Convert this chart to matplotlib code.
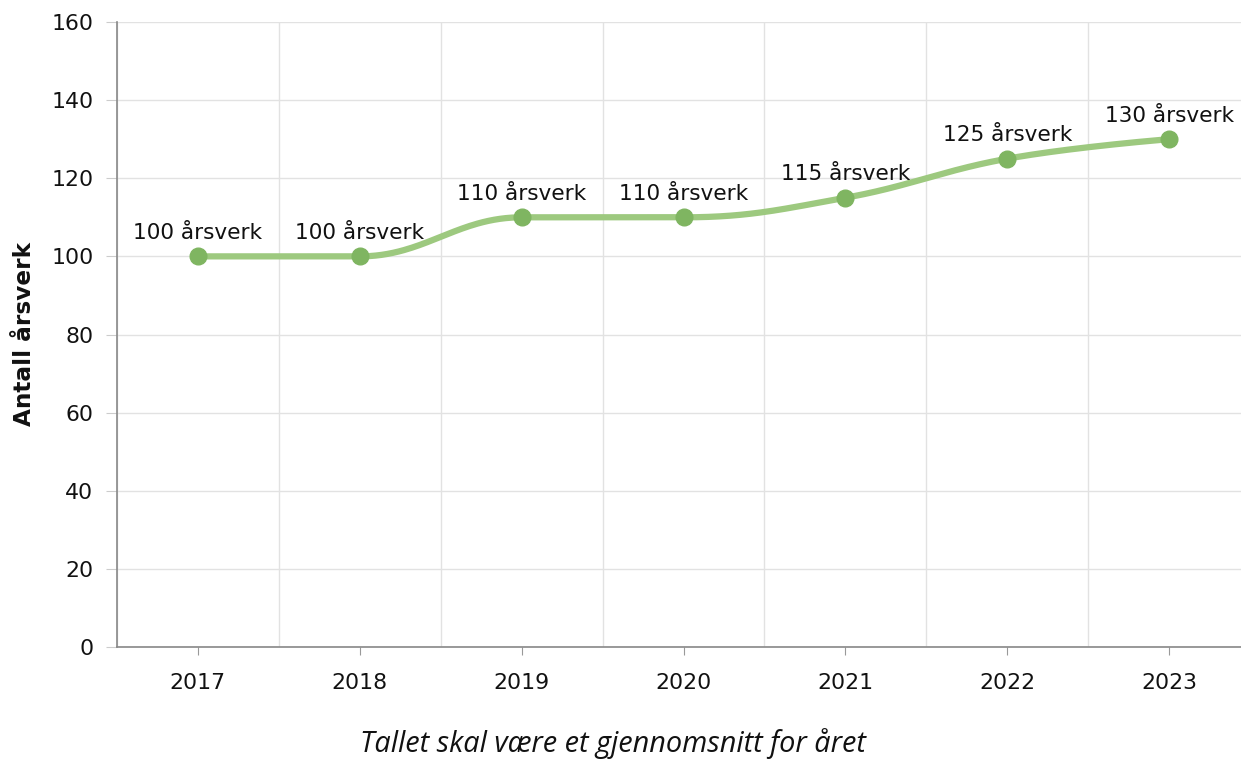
import numpy as np
import matplotlib
matplotlib.use("Agg")
import matplotlib.pyplot as plt

years = ["2017", "2018", "2019", "2020", "2021", "2022", "2023"]
values = [100, 100, 110, 110, 115, 125, 130]
labels = ["100 årsverk", "100 årsverk", "110 årsverk", "110 årsverk",
          "115 årsverk", "125 årsverk", "130 årsverk"]
y_ticks = [0, 20, 40, 60, 80, 100, 120, 140, 160]

W, H = 1241, 760
fig = plt.figure(figsize=(W / 100, H / 100), dpi=100)
ax = fig.add_axes([117 / W, 113 / H, (1250 - 117) / W, (647 - 22) / H])

x = np.arange(len(years)).astype(float)
y = np.array(values, dtype=float)

# Spline with control points (smoothing 1.5, overshoot-corrected)
def spline(xp, yp, n=60, smoothing=1.5):
    k = len(xp)
    lc = [(xp[i], yp[i]) for i in range(k)]
    rc = [(xp[i], yp[i]) for i in range(k)]
    den = smoothing + 1
    for i in range(1, k - 1):
        lx = (smoothing * xp[i] + xp[i - 1]) / den
        ly = (smoothing * yp[i] + yp[i - 1]) / den
        rx = (smoothing * xp[i] + xp[i + 1]) / den
        ry = (smoothing * yp[i] + yp[i + 1]) / den
        corr = (ry - ly) * (rx - xp[i]) / (rx - lx) + yp[i] - ry
        ly += corr
        ry += corr
        if ly > yp[i - 1] and ly > yp[i]:
            ly = max(yp[i - 1], yp[i]); ry = 2 * yp[i] - ly
        elif ly < yp[i - 1] and ly < yp[i]:
            ly = min(yp[i - 1], yp[i]); ry = 2 * yp[i] - ly
        if ry > yp[i + 1] and ry > yp[i]:
            ry = max(yp[i + 1], yp[i]); ly = 2 * yp[i] - ry
        elif ry < yp[i + 1] and ry < yp[i]:
            ry = min(yp[i + 1], yp[i]); ly = 2 * yp[i] - ry
        lc[i] = (lx, ly)
        rc[i] = (rx, ry)
    t = np.linspace(0, 1, n)
    xs, ys = [], []
    for i in range(k - 1):
        P0 = np.array([xp[i], yp[i]]); P1 = np.array(rc[i])
        P2 = np.array(lc[i + 1]); P3 = np.array([xp[i + 1], yp[i + 1]])
        B = (np.outer((1 - t) ** 3, P0) + np.outer(3 * (1 - t) ** 2 * t, P1)
             + np.outer(3 * (1 - t) * t ** 2, P2) + np.outer(t ** 3, P3))
        xs.append(B[:, 0]); ys.append(B[:, 1])
    return np.concatenate(xs), np.concatenate(ys)

sx, sy = spline(x, y)
ax.plot(sx, sy, color="#9dc97f", lw=4.5, solid_capstyle="round", zorder=3)
ax.plot(x, y, "o", color="#7fb561", markersize=12, zorder=4)

for xi, yi, lab in zip(x, y, labels):
    ax.annotate(lab, (xi, yi), xytext=(0, 17), textcoords="offset points",
                ha="center", va="center", fontsize=15.6, color="#111111",
                family="DejaVu Sans", zorder=5)

ax.set_xlim(-0.5, len(years) - 0.5)
ax.set_ylim(0, 160)
ax.set_xticks(x)
ax.set_xticklabels(years, fontsize=15.8)
ax.set_yticks(y_ticks)
ax.set_yticklabels([str(v) for v in y_ticks], fontsize=15.8)
ax.set_xticks(np.arange(len(years) + 1) - 0.5, minor=True)

ax.grid(axis="y", which="major", color="#e2e2e2", lw=1.0, zorder=0)
ax.grid(axis="x", which="minor", color="#e2e2e2", lw=1.0, zorder=0)
ax.tick_params(axis="x", which="minor", length=0)
ax.tick_params(axis="x", which="major", length=6, color="#999999", pad=13, labelcolor="#111111")
ax.tick_params(axis="y", length=8, color="#cccccc", pad=9, labelcolor="#111111")

for sp in ["top", "right"]:
    ax.spines[sp].set_visible(False)
for sp in ["left", "bottom"]:
    ax.spines[sp].set_color("#888888")
    ax.spines[sp].set_linewidth(1.2)

fig.text(25 / W, 1 - 334 / H, "Antall årsverk", rotation=90, ha="center", va="center",
         fontsize=16.7, fontweight="bold", color="#111111")
fig.text(613 / W, 1 - 744 / H, "Tallet skal være et gjennomsnitt for året",
         ha="center", va="center", fontsize=20.8, style="italic", family="Open Sans",
         color="#111111")

fig.savefig("out.png", dpi=100)
